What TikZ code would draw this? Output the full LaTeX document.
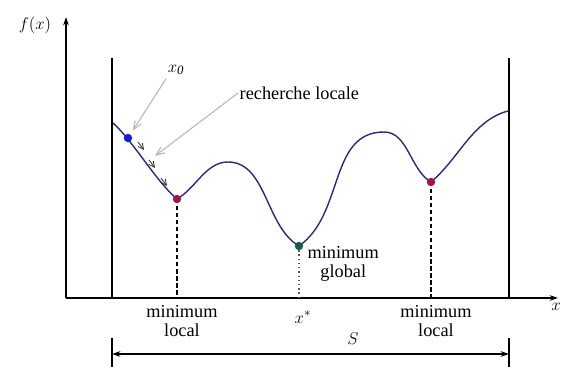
\documentclass[tikz,border=0pt]{standalone}
\usepackage{fontspec}
\setmainfont{Liberation Serif}
\usetikzlibrary{arrows.meta}

\definecolor{curveblue}{RGB}{45,45,110}
\definecolor{startblue}{RGB}{20,30,210}
\definecolor{minred}{RGB}{155,25,70}
\definecolor{mingreen}{RGB}{30,90,75}

\begin{document}
\begin{tikzpicture}[
    x=0.025cm, y=0.025cm,
    % Define styles for reusable components
    axis/.style={line width=1.3pt},
    wall/.style={line width=1.3pt},
    curve/.style={line width=1pt, draw=curveblue},
    point/.style={circle, inner sep=0pt, minimum size=6pt},
    drop/.style={line width=1pt, dash pattern=on 3pt off 2pt},
    dotdrop/.style={line width=1pt, dash pattern=on 1pt off 2pt, gray!70!black},
    pointer/.style={-{Straight Barb[length=6pt,width=5pt]}, gray!55, line width=0.8pt},
    stepmark/.style={-{Straight Barb[length=4pt,width=4pt]}, gray!40!black, line width=0.6pt},
    txt/.style={font=\fontsize{13}{13}\selectfont, align=center, inner sep=1pt}
]
    \useasboundingbox (0,0) rectangle (566,-367);

    % --- AXES ---
    \coordinate (O) at (66,-298);
    \draw[axis, -{Stealth[length=6pt,width=4pt]}] (O) -- (66,-17) coordinate (ytop);
    \draw[axis, -{Stealth[length=6pt,width=4pt]}] (O) -- (558,-298) coordinate (xend);
    \node[txt] (fx) at (35,-25) {$f(x)$};
    \node[txt] (xlab) at (556,-307) {$x$};

    % --- SEARCH SPACE WALLS ---
    \draw[wall] (112,-58) coordinate (wallLtop) -- (112,-298) coordinate (wallLbot);
    \draw[wall] (509,-58) coordinate (wallRtop) -- (509,-298) coordinate (wallRbot);

    % --- FUNCTION CURVE ---
    \coordinate (start) at (113,-123);
    \coordinate (m1) at (177,-199);
    \coordinate (p1) at (228,-162);
    \coordinate (m2) at (299,-246);
    \coordinate (p2) at (384,-132);
    \coordinate (m3) at (431,-182);
    \coordinate (end) at (508,-111);
    \draw[curve] (start) to[out=-42,in=140,looseness=0.7] (m1)
        to[out=30,in=180,looseness=0.9] (p1)
        to[out=0,in=150,looseness=0.9] (m2)
        to[out=35,in=180,looseness=1] (p2)
        to[out=0,in=150,looseness=0.9] (m3)
        to[out=40,in=195,looseness=0.9] (end);

    % --- VERTICAL DROPS TO THE AXIS ---
    \draw[drop] (m1) -- (m1 |- O);
    \draw[drop] (m3) -- (m3 |- O);
    \draw[dotdrop] (m2) -- (m2 |- O);

    % --- POINTS ON THE CURVE ---
    \node[point, fill=startblue] (x0pt) at (128,-138) {};
    \node[point, fill=minred] (loc1) at (m1) {};
    \node[point, fill=mingreen] (glob) at (m2) {};
    \node[point, fill=minred] (loc2) at (m3) {};

    % local search steps
    \draw[stepmark] (138,-142) -- (144,-150);
    \draw[stepmark] (149,-160) -- (155,-168);
    \draw[stepmark] (161,-178) -- (167,-186);

    % --- LABELS AND POINTERS ---
    \node[txt] (x0lab) at (176,-70) {$x_{\mathit{0}}$};
    \node[txt, anchor=west] (search) at (238,-93) {recherche locale};
    \coordinate (stepend) at (155,-156);
    \draw[pointer, shorten >=3pt] (x0lab.south west) ++(0,-2) -- (x0pt);
    \draw[pointer] (search.west) -- (stepend);

    \node[txt, anchor=west] (globlab) at (306,-264) {minimum\\global};
    \node[txt] (loc1lab) at (182,-321) {minimum\\local};
    \node[txt] (loc2lab) at (436,-321) {minimum\\local};
    \node[txt] (xstar) at (303,-317) {$x^*$};

    % --- EXTENT OF S ---
    \draw[line width=1pt] (112,-338) -- (112,-367);
    \draw[line width=1pt] (509,-338) -- (509,-367);
    \coordinate (dimL) at (112,-354);
    \coordinate (dimR) at (509,-354);
    \draw[line width=1pt, {Stealth[length=6pt,width=4pt]}-{Stealth[length=6pt,width=4pt]}] (dimL) -- (dimR);
    \node[txt] (S) at (353,-339) {$S$};

\end{tikzpicture}
\end{document}
